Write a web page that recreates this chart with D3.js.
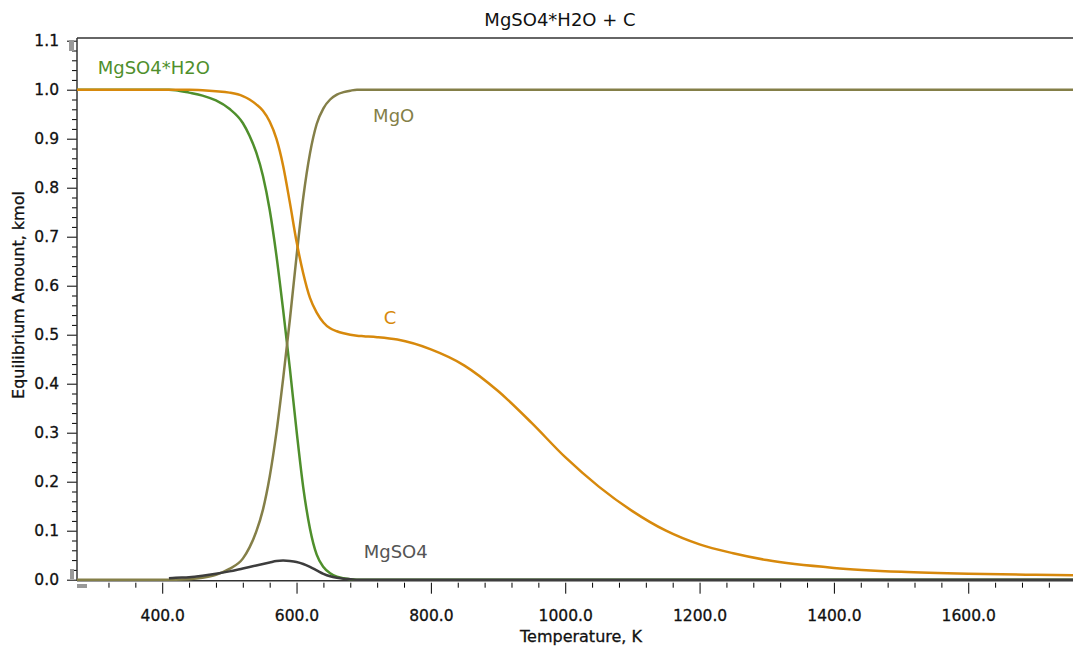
<!DOCTYPE html>
<html>
  <head>
    <meta charset="UTF-8">
    <script src="https://cdn.jsdelivr.net/npm/d3@7/dist/d3.min.js"></script>

    <style type="text/css">

    body {
      margin: 0;
      background: #fff;
    }

    text {
      font-family: "DejaVu Sans", Verdana, sans-serif;
    }

    path.series {
      fill: none;
      stroke-width: 2.5;
      stroke-linejoin: round;
    }

    .axis .major line {
      stroke: #333;
    }

    .axis .minor line {
      stroke: #999;
    }

    .axis text {
      fill: #111;
      stroke: #111;
      stroke-width: 0.3;
      font-size: 15.5px;
    }

    text.title {
      text-anchor: middle;
      font-size: 18px;
      fill: #111;
    }

    text.caption {
      text-anchor: middle;
      font-size: 16px;
      fill: #111;
      stroke: #111;
      stroke-width: 0.3;
    }

    text.label {
      font-size: 18px;
    }

    </style>
  </head>
  <body>

    <script type="text/javascript">

      var width = 1073;
      var height = 650;

      /* Data: temperature grid (K) and equilibrium amounts (kmol) */
      var temperature = [273.15, 350, 400, 410, 420, 440, 460, 480, 500, 520, 530, 540, 550,
        560, 570, 580, 590, 600, 610, 620, 630, 640, 650, 660, 670, 680, 690, 700, 720,
        750, 800, 850, 900, 950, 1000, 1050, 1100, 1150, 1200, 1250, 1300, 1400, 1500,
        1600, 1700, 1773.15];

      var mgso4h2o = [1, 1, 1, 1, 0.999, 0.994, 0.988, 0.978, 0.961, 0.932, 0.906, 0.872, 0.824,
        0.755, 0.662, 0.551, 0.432, 0.304, 0.188, 0.104, 0.051, 0.026, 0.013, 0.006, 0.003, 0.001, 0, 0, 0,
        0, 0, 0, 0, 0, 0, 0, 0, 0, 0, 0, 0, 0, 0,
        0, 0, 0];

      var mgo = [0, 0, 0, 0, 0, 0.001, 0.004, 0.01, 0.022, 0.043, 0.066, 0.098, 0.143,
        0.21, 0.3, 0.41, 0.53, 0.66, 0.78, 0.87, 0.93, 0.962, 0.98, 0.99, 0.995, 0.998, 1, 1, 1,
        1, 1, 1, 1, 1, 1, 1, 1, 1, 1, 1, 1, 1, 1,
        1, 1, 1];

      var mgso4 = [null, null, null, 0.003, 0.004, 0.005, 0.008, 0.012, 0.017, 0.023, 0.026, 0.029, 0.032,
        0.035, 0.038, 0.039, 0.038, 0.036, 0.032, 0.026, 0.019, 0.012, 0.007, 0.004, 0.002, 0.001, 0, 0, 0,
        0, 0, 0, 0, 0, 0, 0, 0, 0, 0, 0, 0, 0, 0,
        0, 0, 0];

      var carbon = [1, 1, 1, 1, 1, 1, 0.999, 0.997, 0.994, 0.987, 0.98, 0.97, 0.957,
        0.935, 0.9, 0.845, 0.77, 0.69, 0.625, 0.575, 0.545, 0.525, 0.513, 0.507, 0.503, 0.5, 0.498, 0.497, 0.495,
        0.49, 0.47, 0.437, 0.385, 0.32, 0.25, 0.19, 0.14, 0.1, 0.072, 0.054, 0.04, 0.024, 0.016,
        0.012, 0.01, 0.009];

      var seriesNames = ["MgSO4*H2O", "MgO", "MgSO4", "C"];
      var seriesValues = [mgso4h2o, mgo, mgso4, carbon];
      var seriesColors = ["#4f8f2c", "#847f48", "#3d3d3d", "#d7890c"];

      /* Label anchor per series, in data units */
      var labelT = [304, 714, 700, 730];
      var labelY = [1.032, 0.935, 0.044, 0.522];
      var labelColors = ["#4f8f2c", "#847f48", "#555555", "#d7890c"];

      var xTicks = [400, 600, 800, 1000, 1200, 1400, 1600];
      var xMinorTicks = d3.range(320, 1773, 40).filter(function(d) { return xTicks.indexOf(d) < 0; });
      var yTicks = d3.range(0, 1.101, 0.1);
      var yMinorTicks = d3.range(0, 1.1, 0.02).filter(function(d) { return Math.abs(d*10 - Math.round(d*10)) > 0.01; });

      var l = 77;
      var t = 40.7;
      var b = 579.7;

      var svg = d3.select("body").append("svg")
        .attr("width", width)
        .attr("height", height);

      var x = d3.scaleLinear()
        .domain([273.15, 1773.15])
        .range([l, l + 1500*0.6717]);

      var y = d3.scaleLinear()
        .domain([0, 1.1])
        .range([b, t]);

      /* Top frame line */
      svg.append("line")
        .attr("x1", l)
        .attr("x2", width)
        .attr("y1", 38)
        .attr("y2", 38)
        .attr("stroke", "#333")
        .attr("stroke-width", 1.5);

      /* Minor ticks first, majors on top */
      svg.append("g")
        .attr("class", "axis minor")
        .attr("transform", "translate(0," + (b + 3) + ")")
        .call(d3.axisBottom(x).tickValues(xMinorTicks).tickSize(5).tickFormat(""))
        .select(".domain").remove();

      svg.append("g")
        .attr("class", "axis major")
        .attr("transform", "translate(0," + (b + 3) + ")")
        .call(d3.axisBottom(x).tickValues(xTicks).tickSize(11).tickPadding(16).tickFormat(d3.format(".1f")))
        .select(".domain").remove();

      svg.append("g")
        .attr("class", "axis minor")
        .attr("transform", "translate(" + l + ",0)")
        .call(d3.axisLeft(y).tickValues(yMinorTicks).tickSize(5).tickFormat(""))
        .select(".domain").remove();

      svg.append("g")
        .attr("class", "axis major")
        .attr("transform", "translate(" + l + ",0)")
        .call(d3.axisLeft(y).tickValues(yTicks).tickSize(10).tickPadding(8).tickFormat(d3.format(".1f")))
        .select(".domain").remove();

      /* Axis lines */
      svg.append("line")
        .attr("x1", l).attr("x2", l)
        .attr("y1", 38).attr("y2", b + 1)
        .attr("stroke", "#333")
        .attr("stroke-width", 1.5);

      svg.append("line")
        .attr("x1", l).attr("x2", width)
        .attr("y1", b + 1).attr("y2", b + 1)
        .attr("stroke", "#333")
        .attr("stroke-width", 1.5);

      /* Little grey zoom handles at the axis ends */
      svg.append("rect").attr("x", 69).attr("y", 40).attr("width", 5).attr("height", 11).attr("fill", "#999");
      svg.append("rect").attr("x", 70).attr("y", 569).attr("width", 4).attr("height", 10).attr("fill", "#999");
      svg.append("rect").attr("x", 77).attr("y", 584).attr("width", 10).attr("height", 4).attr("fill", "#999");

      /* Curves */
      var line = d3.line()
        .defined(function(d) { return d[1] !== null; })
        .curve(d3.curveMonotoneX)
        .x(function(d) { return x(d[0]); })
        .y(function(d) { return y(d[1]); });

      svg.append("g")
        .selectAll("path.series")
        .data(seriesValues)
        .enter()
        .append("path")
        .attr("class", "series")
        .attr("stroke", function(d, i) { return seriesColors[i]; })
        .attr("d", function(d) {
          return line(temperature.map(function(tv, j) { return [tv, d[j]]; }));
        });

      /* Series labels */
      svg.selectAll("text.label")
        .data(seriesNames)
        .enter()
        .append("text")
        .attr("class", "label")
        .attr("x", function(d, i) { return x(labelT[i]); })
        .attr("y", function(d, i) { return y(labelY[i]); })
        .attr("fill", function(d, i) { return labelColors[i]; })
        .text(function(d) { return d; });

      /* Titles */
      svg.append("text")
        .attr("class", "title")
        .attr("x", 560)
        .attr("y", 26)
        .text("MgSO4*H2O + C");

      svg.append("text")
        .attr("class", "caption")
        .attr("x", 581)
        .attr("y", 642)
        .text("Temperature, K");

      svg.append("text")
        .attr("class", "caption")
        .attr("transform", "translate(24,295) rotate(-90)")
        .text("Equilibrium Amount, kmol");

    </script>
  </body>
</html>
